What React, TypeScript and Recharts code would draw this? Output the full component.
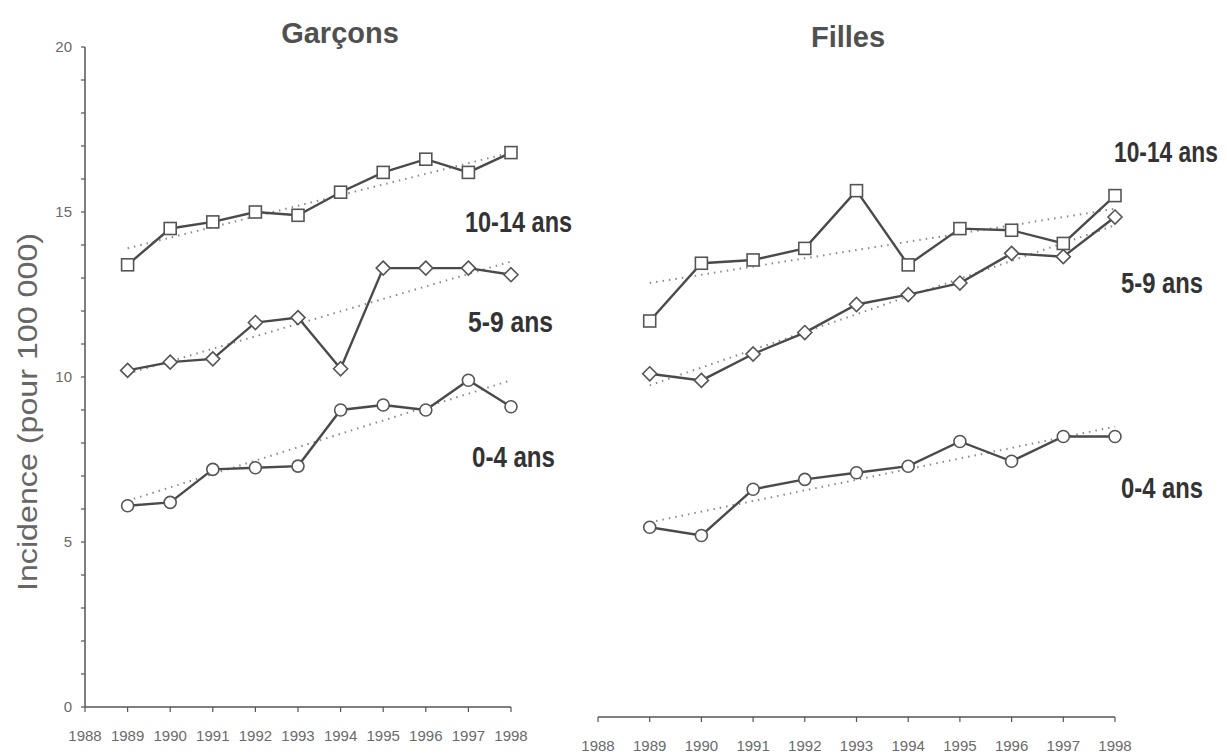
import React from 'react';
import { LineChart, Line, XAxis, YAxis } from 'recharts';

// ---- data ----
const years = [1989, 1990, 1991, 1992, 1993, 1994, 1995, 1996, 1997, 1998];
const xTicks = [1988, 1989, 1990, 1991, 1992, 1993, 1994, 1995, 1996, 1997, 1998];
const yTicks = [0, 1, 2, 3, 4, 5, 6, 7, 8, 9, 10, 11, 12, 13, 14, 15, 16, 17, 18, 19, 20];

const boys0to4 = [6.1, 6.2, 7.2, 7.25, 7.3, 9.0, 9.15, 9.0, 9.9, 9.1];
const boys5to9 = [10.2, 10.45, 10.55, 11.65, 11.8, 10.25, 13.3, 13.3, 13.3, 13.1];
const boys10to14 = [13.4, 14.5, 14.7, 15.0, 14.9, 15.6, 16.2, 16.6, 16.2, 16.8];

const girls0to4 = [5.75, 5.5, 6.9, 7.2, 7.4, 7.6, 8.35, 7.75, 8.5, 8.5];
const girls5to9 = [10.4, 10.2, 11.0, 11.65, 12.5, 12.8, 13.15, 14.05, 13.95, 15.15];
const girls10to14 = [12.0, 13.75, 13.85, 14.2, 15.95, 13.7, 14.8, 14.75, 14.35, 15.8];

const trendYears = [1989, 1998];
const boysTrend0to4 = [6.25, 9.9];
const boysTrend5to9 = [10.1, 13.5];
const boysTrend10to14 = [13.9, 16.8];
const girlsTrend0to4 = [5.9, 8.8];
const girlsTrend5to9 = [10.05, 14.9];
const girlsTrend10to14 = [13.15, 15.4];

const titles = ['Garçons', 'Filles'];
const ageLabels = ['10-14 ans', '5-9 ans', '0-4 ans'];
const yAxisTitle = 'Incidence (pour 100 000)';

// ---- helpers ----
const rows = (xs: number[], vs: number[]) => xs.map((year, i) => ({ year, value: vs[i] }));

const LINE = '#4a4a4a';
const MARK = '#555';

const SquareDot = (p: any) => {
  const { cx, cy, index } = p;
  if (cx == null || cy == null) return null;
  return <rect key={`s${index}`} x={cx - 6} y={cy - 6} width={12} height={12} fill="#fff" stroke={MARK} strokeWidth={1.6} />;
};
const DiamondDot = (p: any) => {
  const { cx, cy, index } = p;
  if (cx == null || cy == null) return null;
  return (
    <polygon
      key={`d${index}`}
      points={`${cx},${cy - 7} ${cx + 7},${cy} ${cx},${cy + 7} ${cx - 7},${cy}`}
      fill="#fff"
      stroke={MARK}
      strokeWidth={1.6}
    />
  );
};
const CircleDot = (p: any) => {
  const { cx, cy, index } = p;
  if (cx == null || cy == null) return null;
  return <circle key={`c${index}`} cx={cx} cy={cy} r={6} fill="#fff" stroke={MARK} strokeWidth={1.6} />;
};

const tickStyle = { fill: '#6a6a6a', fontSize: 15, fontFamily: 'Liberation Sans, Arial, sans-serif' };

function Panel(props: {
  width: number;
  height: number;
  margin: any;
  showY: boolean;
  xAxisHeight: number;
  series: number[][];
  trends: number[][];
}) {
  const { width, height, margin, showY, xAxisHeight, series, trends } = props;
  const dots = [CircleDot, DiamondDot, SquareDot];
  return (
    <LineChart width={width} height={height} margin={margin}>
      <XAxis
        dataKey="year"
        type="number"
        domain={[1988, 1998]}
        ticks={xTicks}
        interval={0}
        height={xAxisHeight}
        tick={tickStyle}
        tickSize={5}
        tickMargin={18}
        axisLine={{ stroke: '#555', strokeWidth: 1.5 }}
        tickLine={{ stroke: '#555', strokeWidth: 1.2 }}
      />
      <YAxis
        type="number"
        domain={[0, 20]}
        ticks={yTicks}
        interval={0}
        hide={!showY}
        width={showY ? 85 : 0}
        tickFormatter={(v: number) => (v % 5 === 0 ? String(v) : '')}
        tick={tickStyle}
        tickSize={4}
        tickMargin={9}
        axisLine={{ stroke: '#555', strokeWidth: 1.5 }}
        tickLine={{ stroke: '#555', strokeWidth: 1.2 }}
      />
      {trends.map((t, i) => (
        <Line
          key={`t${i}`}
          data={rows(trendYears, t)}
          dataKey="value"
          stroke="#8a8a8a"
          strokeWidth={2}
          strokeDasharray="1.5 5"
          dot={false}
          activeDot={false}
          isAnimationActive={false}
        />
      ))}
      {series.map((s, i) => (
        <Line
          key={`s${i}`}
          data={rows(years, s)}
          dataKey="value"
          stroke={LINE}
          strokeWidth={2.4}
          dot={dots[i]}
          activeDot={false}
          isAnimationActive={false}
        />
      ))}
    </LineChart>
  );
}

const labelFont = 'Liberation Sans, Arial, sans-serif';

// condensed bold annotation: drawn at 30px and squeezed horizontally
function AgeLabel(props: { x: number; y: number; sx: number; text: string }) {
  return (
    <text
      transform={`translate(${props.x},${props.y}) scale(${props.sx},1)`}
      fontSize={30}
      fontWeight="bold"
      fill="#333"
      fontFamily={labelFont}
    >
      {props.text}
    </text>
  );
}

export default function App() {
  return (
    <div style={{ position: 'absolute', left: 0, top: 0, width: 1227, height: 756, background: '#fff', overflow: 'hidden' }}>
      <div style={{ position: 'absolute', left: 0, top: 0 }}>
        <Panel
          width={560}
          height={756}
          margin={{ top: 47, right: 49, bottom: 9, left: 0 }}
          showY={true}
          xAxisHeight={40}
          series={[boys0to4, boys5to9, boys10to14]}
          trends={[boysTrend0to4, boysTrend5to9, boysTrend10to14]}
        />
      </div>
      <div style={{ position: 'absolute', left: 560, top: 0 }}>
        <Panel
          width={620}
          height={756}
          margin={{ top: 57, right: 65, bottom: 0, left: 38 }}
          showY={false}
          xAxisHeight={39}
          series={[girls0to4, girls5to9, girls10to14]}
          trends={[girlsTrend0to4, girlsTrend5to9, girlsTrend10to14]}
        />
      </div>
      <svg width={1227} height={756} style={{ position: 'absolute', left: 0, top: 0, pointerEvents: 'none' }}>
        <text x={340} y={43} textAnchor="middle" fontSize={29} fontWeight="bold" fill="#505050" fontFamily={labelFont}>{titles[0]}</text>
        <text x={848} y={47} textAnchor="middle" fontSize={29} fontWeight="bold" fill="#505050" fontFamily={labelFont}>{titles[1]}</text>

        <AgeLabel x={465} y={232} sx={0.783} text={ageLabels[0]} />
        <AgeLabel x={468} y={332} sx={0.822} text={ageLabels[1]} />
        <AgeLabel x={472} y={467} sx={0.803} text={ageLabels[2]} />

        <AgeLabel x={1114} y={162} sx={0.76} text={ageLabels[0]} />
        <AgeLabel x={1121} y={293} sx={0.793} text={ageLabels[1]} />
        <AgeLabel x={1121} y={498} sx={0.793} text={ageLabels[2]} />

        <text
          transform="translate(37,412) rotate(-90)"
          textAnchor="middle"
          fontSize={28}
          fill="#666"
          fontFamily="Liberation Sans, Arial, sans-serif"
          textLength={358}
          lengthAdjust="spacingAndGlyphs"
        >
          {yAxisTitle}
        </text>
      </svg>
    </div>
  );
}
